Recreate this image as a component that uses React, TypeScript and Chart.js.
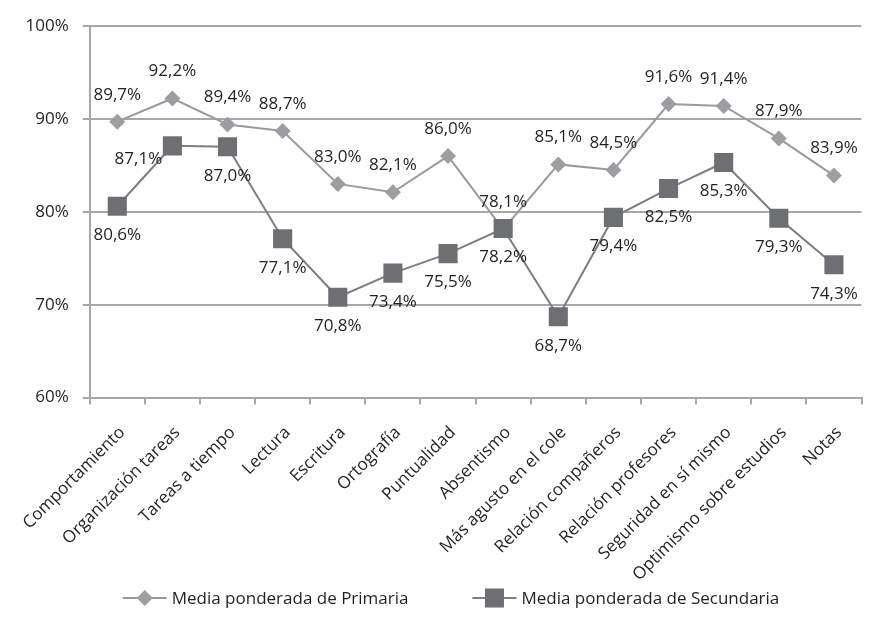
import React, { useEffect, useRef } from "react";
import { Chart, registerables } from "chart.js";

Chart.register(...registerables);

const categories = [
  "Comportamiento",
  "Organización tareas",
  "Tareas a tiempo",
  "Lectura",
  "Escritura",
  "Ortografía",
  "Puntualidad",
  "Absentismo",
  "Más agusto en el cole",
  "Relación compañeros",
  "Relación profesores",
  "Seguridad en sí mismo",
  "Optimismo sobre estudios",
  "Notas",
];

const primaria = [89.7, 92.2, 89.4, 88.7, 83.0, 82.1, 86.0, 78.1, 85.1, 84.5, 91.6, 91.4, 87.9, 83.9];
const secundaria = [80.6, 87.1, 87.0, 77.1, 70.8, 73.4, 75.5, 78.2, 68.7, 79.4, 82.5, 85.3, 79.3, 74.3];

const seriesNames = ["Media ponderada de Primaria", "Media ponderada de Secundaria"];

const yMin = 60;
const yMax = 100;
const yStep = 10;

const FONT = "'Open Sans', Lato, sans-serif";
const TEXT = "#231f20";
const GRID = "#a7a7a9";
const PRI_FILL = "#9d9ea1";
const PRI_LINE = "#9a9a9c";
const SEC_FILL = "#6e6f73";
const SEC_LINE = "#7c7d80";

const fmt = (v: number) => v.toFixed(1).replace(".", ",") + "%";

const labelsPlugin = {
  id: "pointLabels",
  afterDatasetsDraw(chart: any) {
    const ctx = chart.ctx;
    ctx.save();
    ctx.font = `17px ${FONT}`;
    ctx.fillStyle = TEXT;
    ctx.textAlign = "center";
    ctx.textBaseline = "middle";
    chart.data.datasets.forEach((ds: any, di: number) => {
      const meta = chart.getDatasetMeta(di);
      meta.data.forEach((pt: any, i: number) => {
        const v = ds.data[i];
        let x = pt.x;
        let y = pt.y;
        if (ds.labelSide === "above") {
          y -= 27;
        } else {
          const exc = ds.labelExceptions && ds.labelExceptions[i];
          if (exc === "left") {
            x -= 34;
            y += 13;
          } else {
            y += 29;
          }
        }
        ctx.fillText(fmt(v), x, y);
      });
    });
    ctx.restore();
  },
};

function drawMarker(ctx: CanvasRenderingContext2D, kind: string, x: number, y: number) {
  if (kind === "diamond") {
    const r = 8;
    ctx.fillStyle = PRI_FILL;
    ctx.beginPath();
    ctx.moveTo(x, y - r);
    ctx.lineTo(x + r, y);
    ctx.lineTo(x, y + r);
    ctx.lineTo(x - r, y);
    ctx.closePath();
    ctx.fill();
  } else {
    const s = 19;
    ctx.fillStyle = SEC_FILL;
    ctx.fillRect(x - s / 2, y - s / 2, s, s);
  }
}

const legendPlugin = {
  id: "customLegend",
  afterDraw(chart: any) {
    const ctx = chart.ctx;
    ctx.save();
    ctx.font = `17px ${FONT}`;
    ctx.textBaseline = "middle";
    ctx.textAlign = "left";
    const items = [
      { name: seriesNames[0], kind: "diamond", line: PRI_LINE },
      { name: seriesNames[1], kind: "square", line: SEC_LINE },
    ];
    const lineLen = 44;
    const gapText = 5;
    const gapItems = 64;
    const widths = items.map((it) => lineLen + gapText + ctx.measureText(it.name).width);
    const total = widths[0] + widths[1] + gapItems;
    let x = 451 - total / 2;
    const y = 598;
    items.forEach((it, k) => {
      ctx.strokeStyle = it.line;
      ctx.lineWidth = 2;
      ctx.beginPath();
      ctx.moveTo(x, y);
      ctx.lineTo(x + lineLen, y);
      ctx.stroke();
      drawMarker(ctx, it.kind, x + lineLen / 2, y);
      ctx.fillStyle = TEXT;
      ctx.fillText(it.name, x + lineLen + gapText, y + 1);
      x += widths[k] + gapItems;
    });
    ctx.restore();
  },
};

export default function App() {
  const ref = useRef<HTMLCanvasElement | null>(null);

  useEffect(() => {
    document.body.style.margin = "0";
    const canvas = ref.current;
    if (!canvas) return;
    const chart = new Chart(canvas, {
      type: "line",
      data: {
        labels: categories,
        datasets: [
          {
            label: seriesNames[0],
            data: primaria,
            borderColor: PRI_LINE,
            backgroundColor: PRI_FILL,
            borderWidth: 2,
            pointStyle: "rectRot",
            pointRadius: 8,
            pointHoverRadius: 8,
            pointBorderWidth: 0,
            pointBackgroundColor: PRI_FILL,
            tension: 0,
            order: 2,
            labelSide: "above",
          } as any,
          {
            label: seriesNames[1],
            data: secundaria,
            borderColor: SEC_LINE,
            backgroundColor: SEC_FILL,
            borderWidth: 2,
            pointStyle: "rect",
            pointRadius: 13.5,
            pointHoverRadius: 13.5,
            pointBorderWidth: 0,
            pointBackgroundColor: SEC_FILL,
            tension: 0,
            order: 1,
            labelSide: "below",
            labelExceptions: { 1: "left" },
          } as any,
        ],
      },
      options: {
        responsive: false,
        animation: false,
        layout: { padding: { top: 26, right: -9, left: 8, bottom: 24 } },
        plugins: {
          legend: { display: false },
          tooltip: { enabled: false },
        },
        scales: {
          x: {
            offset: true,
            grid: {
              offset: true,
              drawOnChartArea: false,
              drawTicks: true,
              tickLength: 7,
              color: GRID,
              lineWidth: 2,
            },
            border: { display: true, color: GRID, width: 2 },
            ticks: {
              minRotation: 45,
              maxRotation: 45,
              autoSkip: false,
              color: TEXT,
              font: { family: FONT, size: 17 },
              padding: 18,
              labelOffset: 5,
            },
          },
          y: {
            min: yMin,
            max: yMax,
            ticks: {
              stepSize: yStep,
              color: TEXT,
              font: { family: FONT, size: 17 },
              padding: 14,
              callback: (v: any) => v + "%",
            },
            grid: {
              color: GRID,
              lineWidth: 2,
              drawTicks: true,
              tickLength: 7,
            },
            border: { display: true, color: GRID, width: 2 },
          },
        },
      },
      plugins: [labelsPlugin, legendPlugin],
    });
    return () => chart.destroy();
  }, []);

  return (
    <div style={{ position: "absolute", left: 0, top: 0, width: 875, height: 627, background: "#fff" }}>
      <canvas ref={ref} width={875} height={627} />
    </div>
  );
}
